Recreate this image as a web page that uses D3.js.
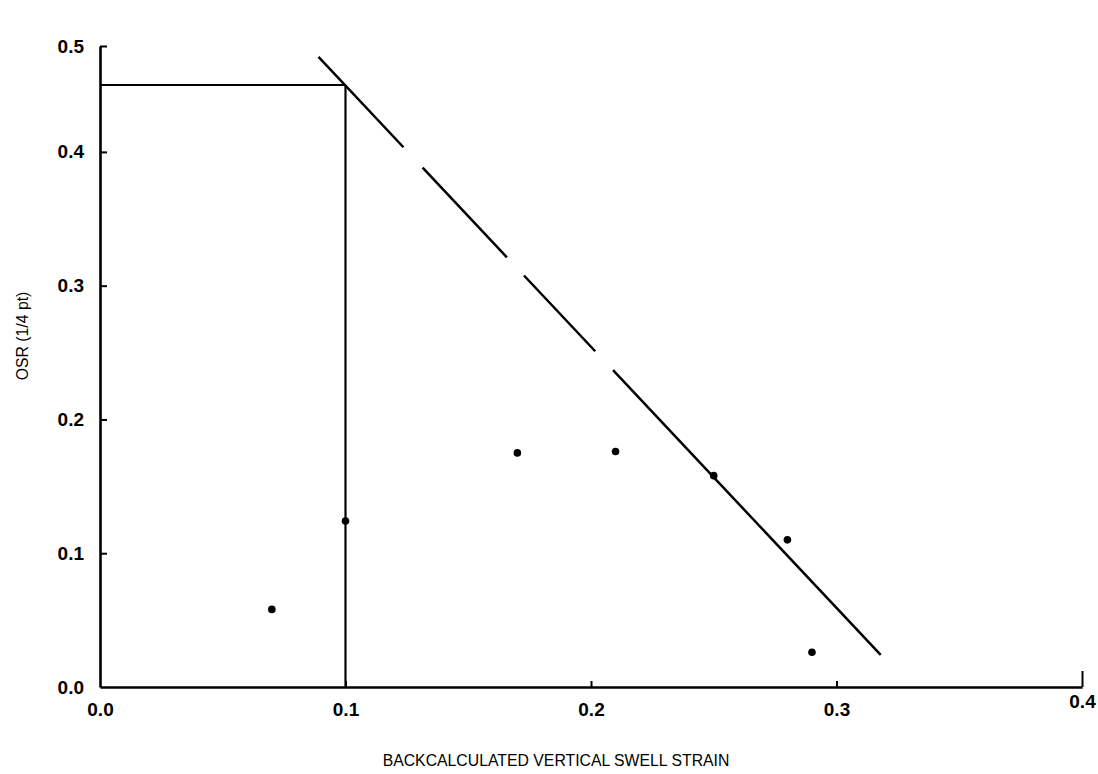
<!DOCTYPE html>
<html>
<head>
<meta charset="utf-8">
<script src="https://cdn.jsdelivr.net/npm/d3@7"></script>
<style>
  html, body { margin: 0; padding: 0; background: #fff; }
  svg { display: block; }
  text { font-family: "Liberation Sans", Arial, sans-serif; fill: #000; }
</style>
</head>
<body>
<svg id="chart" width="1098" height="774"></svg>
<script>
// Measured swell strain vs. OSR (1/4 pt)
const strain = [0.07, 0.10, 0.17, 0.21, 0.25, 0.28, 0.29];
const osr    = [0.058, 0.124, 0.175, 0.176, 0.158, 0.110, 0.026];

// Bounding trend line (start / end in data units)
const trendX = [0.089, 0.318];
const trendY = [0.486, 0.024];

// Design limit: strain 0.1 at OSR 0.45
const limitStrain = 0.10;
const limitOsr = 0.45;

const xTicks = [0.0, 0.1, 0.2, 0.3, 0.4];
const yTicks = [0.0, 0.1, 0.2, 0.3, 0.4, 0.5];

const svg = d3.select("#chart");

const x = d3.scaleLinear().domain([0, 0.4]).range([100, 1082]);
// top of the axis is compressed: 0.5 sits at the axis end
const y = d3.scaleLinear().domain([0, 0.45, 0.5]).range([687, 85, 46]);

// Axes
const xAxis = d3.axisBottom(x).tickValues(xTicks).tickSizeInner(-6).tickSizeOuter(0)
  .tickPadding(16).tickFormat(d3.format(".1f"));
const yAxis = d3.axisLeft(y).tickValues(yTicks).tickSizeInner(-7).tickSizeOuter(0)
  .tickPadding(16).tickFormat(d3.format(".1f"));

const gx = svg.append("g").attr("transform", `translate(0,${y(0)})`).call(xAxis);
const gy = svg.append("g").attr("transform", `translate(${x(0)},0)`).call(yAxis);

[gx, gy].forEach(g => {
  g.attr("font-size", 19).attr("font-family", "Liberation Sans, Arial, sans-serif");
  g.select(".domain").attr("stroke", "#000").attr("stroke-width", 2.6);
  g.selectAll(".tick line").attr("stroke", "#000").attr("stroke-width", 2);
  g.selectAll(".tick text").attr("font-weight", "bold");
});
// end tick of the x axis is taller, its label sits higher
gx.selectAll(".tick").filter(d => d === 0.4).select("line").attr("y2", -16);
gx.selectAll(".tick").filter(d => d === 0.4).select("text").attr("y", 8);
gx.selectAll(".tick").filter(d => d === 0).select("line").remove();
gy.selectAll(".tick").filter(d => d === 0).select("line").remove();

// Axis titles
svg.append("text")
  .attr("x", 556).attr("y", 766)
  .attr("text-anchor", "middle")
  .attr("font-size", 15.8)
  .text("BACKCALCULATED VERTICAL SWELL STRAIN");

svg.append("text")
  .attr("transform", `translate(28,336) rotate(-90)`)
  .attr("text-anchor", "middle")
  .attr("font-size", 15.8)
  .text("OSR (1/4 pt)");

// Limit lines
svg.append("line")
  .attr("x1", x(0)).attr("x2", x(limitStrain))
  .attr("y1", y(limitOsr)).attr("y2", y(limitOsr))
  .attr("stroke", "#000").attr("stroke-width", 2.2);
svg.append("line")
  .attr("x1", x(limitStrain)).attr("x2", x(limitStrain))
  .attr("y1", y(0)).attr("y2", y(limitOsr))
  .attr("stroke", "#000").attr("stroke-width", 2.2);

// Trend line with long dashes
svg.append("line")
  .attr("x1", x(trendX[0])).attr("y1", y(trendY[0]))
  .attr("x2", x(trendX[1])).attr("y2", y(trendY[1]))
  .attr("stroke", "#000").attr("stroke-width", 2.5)
  .attr("stroke-dasharray", "124 28 123 25 104 26 420");

// Data points
svg.append("g").selectAll("circle")
  .data(strain.map((s, i) => [s, osr[i]]))
  .join("circle")
  .attr("cx", d => x(d[0]))
  .attr("cy", d => y(d[1]))
  .attr("r", 3.8)
  .attr("fill", "#000");
</script>
</body>
</html>
